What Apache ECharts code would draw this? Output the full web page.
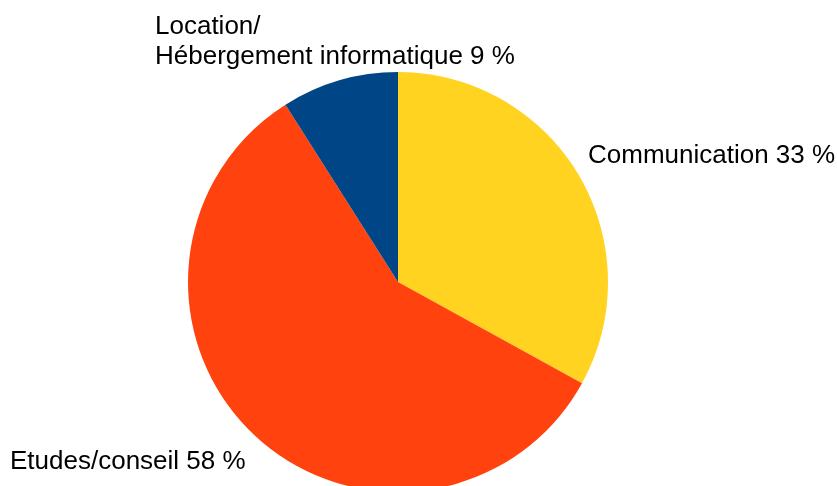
<!DOCTYPE html>
<html><head><meta charset="utf-8">
<script src="https://cdn.jsdelivr.net/npm/echarts@6/dist/echarts.min.js"></script>
<style>html,body{margin:0;padding:0;background:#fff}#c{width:837px;height:486px}</style>
</head><body><div id="c"></div>
<script>
const categories = ["Communication", "Etudes/conseil", "Location/\nHébergement informatique"];
const values = [33, 58, 9];
const colors = ["#FFD320", "#FF420E", "#004586"];
const labelPos = [
  {x: 588, y: 156},
  {x: 10, y: 462},
  {x: 155, y: 42}
];
const chart = echarts.init(document.getElementById('c'), null, {renderer: 'canvas'});
chart.setOption({
  animation: false,
  backgroundColor: '#ffffff',
  series: [{
    type: 'pie',
    center: [398, 282],
    radius: 210,
    startAngle: 90,
    clockwise: true,
    silent: true,
    data: categories.map((n, i) => ({name: n, value: values[i], itemStyle: {color: colors[i]}})),
    itemStyle: {borderWidth: 0},
    label: {
      show: true,
      position: 'outside',
      formatter: p => p.name + ' ' + p.value + ' %',
      fontFamily: 'Liberation Sans',
      fontSize: 26,
      lineHeight: 30,
      color: '#000',
      align: 'left',
      overflow: 'none',
      width: 600
    },
    labelLine: {show: false},
    labelLayout: p => ({x: labelPos[p.dataIndex].x, y: labelPos[p.dataIndex].y, align: 'left', verticalAlign: 'middle', hideOverlap: false, moveOverlap: false}),
    emphasis: {disabled: true}
  }]
});
</script></body></html>
